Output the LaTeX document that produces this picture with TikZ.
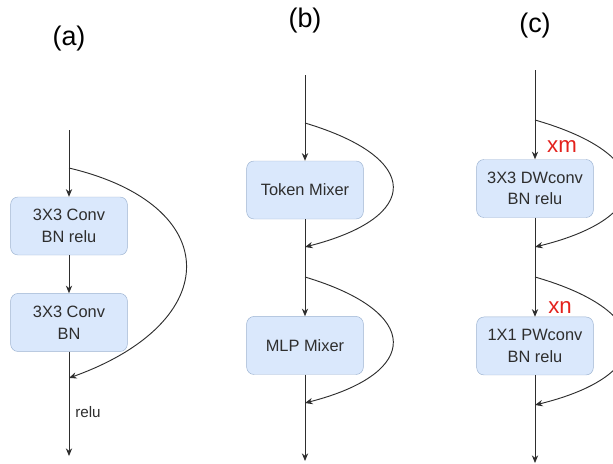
\documentclass[tikz,border=0pt]{standalone}
\usepackage{fontspec}
\setmainfont{Liberation Sans}
\usetikzlibrary{positioning}
\usetikzlibrary{arrows.meta}
\definecolor{boxfill}{HTML}{DAE8FC}
\definecolor{boxline}{HTML}{9DB3D1}
\definecolor{linegray}{HTML}{2E2E2E}
\definecolor{repred}{HTML}{E3211C}

\begin{document}
\begin{tikzpicture}[x=0.03cm, y=-0.03cm,
  block/.style={draw=boxline, fill=boxfill, rounded corners=0.22cm,
    minimum width=3.5cm, minimum height=1.74cm, align=center,
    text=linegray, font=\fontsize{14}{18.5}\selectfont},
  flow/.style={draw=linegray, line width=0.8pt,
    -{Stealth[length=2.3mm,width=1.9mm]}},
  title/.style={text=black, font=\fontsize{23}{27}\selectfont},
  reps/.style={text=repred, font=\fontsize{19}{23}\selectfont}]
  \clip (0,0) rectangle (613,463);
  % (a)
  \node[title] (titlea) at (69,39) {(a)};
  \coordinate (topa) at (69,130);
  \coordinate (forka) at (69,168);
  \node[block] (conva1) at (69,226) {3X3 Conv\\BN relu};
  \node[block, below=1.14cm of conva1] (conva2) {3X3 Conv\\BN};
  \coordinate (joina) at (69,378);
  \coordinate (enda) at (69,456);
  \draw[flow] (topa) -- (conva1);
  \draw[flow] (conva1) -- (conva2);
  \draw[flow] (conva2) -- (enda);
  \draw[flow] (forka) .. controls +(156,37) and +(156,-56) .. (joina);
  \node[text=linegray, font=\fontsize{13}{16}\selectfont] (relua) at (88,412) {relu};
  % (b)
  \node[title] (titleb) at (305,21) {(b)};
  \coordinate (topb) at (305,75);
  \coordinate (forkb1) at (305,123);
  \node[block] (token) at (305,190) {Token Mixer};
  \coordinate (joinb1) at (305,247);
  \coordinate (forkb2) at (305,277);
  \node[block, below=2.91cm of token] (mlp) {MLP Mixer};
  \coordinate (joinb2) at (305,403);
  \coordinate (endb) at (305,461);
  \draw[flow] (topb) -- (token);
  \draw[flow] (token) -- (mlp);
  \draw[flow] (mlp) -- (endb);
  \draw[flow] (forkb1) .. controls +(117,35) and +(117,-30) .. (joinb1);
  \draw[flow] (forkb2) .. controls +(117,35) and +(117,-30) .. (joinb2);
  % (c)
  \node[title] (titlec) at (535,26) {(c)};
  \coordinate (topc) at (535,70);
  \coordinate (forkc1) at (535,120);
  \node[block] (dwconv) at (535,188.5) {3X3 DWconv\\BN relu};
  \coordinate (joinc1) at (535,247);
  \coordinate (forkc2) at (535,277);
  \node[block, below=2.97cm of dwconv] (pwconv) {1X1 PWconv\\BN relu};
  \coordinate (joinc2) at (535,405);
  \coordinate (endc) at (535,463);
  \draw[flow] (topc) -- (dwconv);
  \draw[flow] (dwconv) -- (pwconv);
  \draw[flow] (pwconv) -- (endc);
  \draw[flow] (forkc1) .. controls +(122,35) and +(122,-30) .. (joinc1);
  \draw[flow] (forkc2) .. controls +(122,35) and +(122,-30) .. (joinc2);
  \node[reps] (xm) at (562,147) {xm};
  \node[reps] (xn) at (560,308) {xn};
\end{tikzpicture}
\end{document}
